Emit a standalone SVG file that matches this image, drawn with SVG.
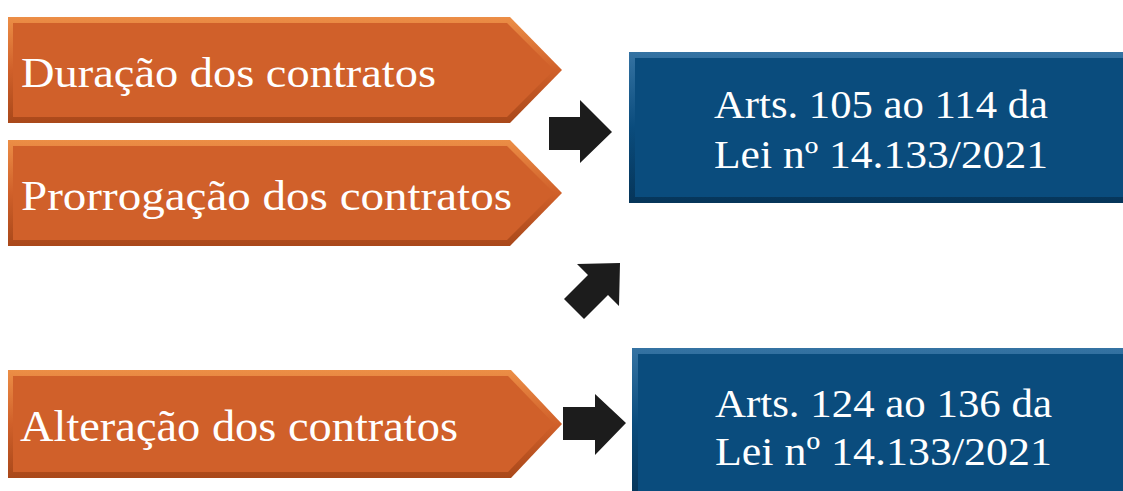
<svg xmlns="http://www.w3.org/2000/svg" width="1123" height="491" viewBox="0 0 1123 491">
<style>
.lbl{font-family:"Liberation Serif","DejaVu Serif",serif;fill:#ffffff}
.or-out{fill:url(#orBevel)}
.or-in{fill:#d0602a}
.bl-out{fill:url(#blBevel)}
.bl-in{fill:#0a4c7d}
.blk{fill:#1c1c1c}
</style>
<defs>
<linearGradient id="orBevel" x1="0" y1="0" x2="0" y2="1">
<stop offset="0" stop-color="#ec8e46"/>
<stop offset="0.5" stop-color="#d0602a"/>
<stop offset="1" stop-color="#a9481a"/>
</linearGradient>
<linearGradient id="blBevel" x1="0" y1="0" x2="0" y2="1">
<stop offset="0" stop-color="#3573a3"/>
<stop offset="0.5" stop-color="#0a4c7d"/>
<stop offset="1" stop-color="#063559"/>
</linearGradient>
</defs>
<rect width="1123" height="491" fill="#ffffff"/>

<g id="node-duracao">
<polygon class="or-out" points="8,17 510,17 562,70 510,123 8,123"/>
<polygon class="or-in" points="13,23 507,23 554,70 507,117 13,117"/>
<text class="lbl" x="21" y="87" font-size="43" textLength="415" lengthAdjust="spacingAndGlyphs">Duração dos contratos</text>
</g>

<g id="node-prorrogacao">
<polygon class="or-out" points="8,140 510,140 562,193 510,246 8,246"/>
<polygon class="or-in" points="13,146 507,146 554,193 507,240 13,240"/>
<text class="lbl" x="21" y="210" font-size="43" textLength="491" lengthAdjust="spacingAndGlyphs">Prorrogação dos contratos</text>
</g>

<g id="node-alteracao">
<polygon class="or-out" points="8,370 511,370 562,424 511,478 8,478"/>
<polygon class="or-in" points="13,376 508,376 554,424 508,472 13,472"/>
<text class="lbl" x="20" y="441" font-size="44" textLength="438" lengthAdjust="spacingAndGlyphs">Alteração dos contratos</text>
</g>

<g id="node-arts105">
<rect class="bl-out" x="629" y="52" width="494" height="151"/>
<rect class="bl-in" x="635" y="58" width="488" height="139"/>
<text class="lbl" x="714" y="118" font-size="40" textLength="334" lengthAdjust="spacingAndGlyphs">Arts. 105 ao 114 da</text>
<text class="lbl" x="714" y="168" font-size="40" textLength="334" lengthAdjust="spacingAndGlyphs">Lei nº 14.133/2021</text>
</g>

<g id="node-arts124">
<rect class="bl-out" x="632" y="348" width="491" height="150"/>
<rect class="bl-in" x="638" y="354" width="485" height="140"/>
<text class="lbl" x="715" y="417" font-size="41" textLength="337" lengthAdjust="spacingAndGlyphs">Arts. 124 ao 136 da</text>
<text class="lbl" x="715" y="465" font-size="41" textLength="337" lengthAdjust="spacingAndGlyphs">Lei nº 14.133/2021</text>
</g>

<g id="connectors">
<polygon class="blk" points="549,117 580,117 580,100 612,132 580,163 580,150 549,150"/>
<polygon class="blk" points="564,299 588,275 577,264 620,263 619,306 608,295 584,319"/>
<polygon class="blk" points="563,407 595,407 595,394 626,423 595,455 595,440 563,440"/>
</g>
</svg>
